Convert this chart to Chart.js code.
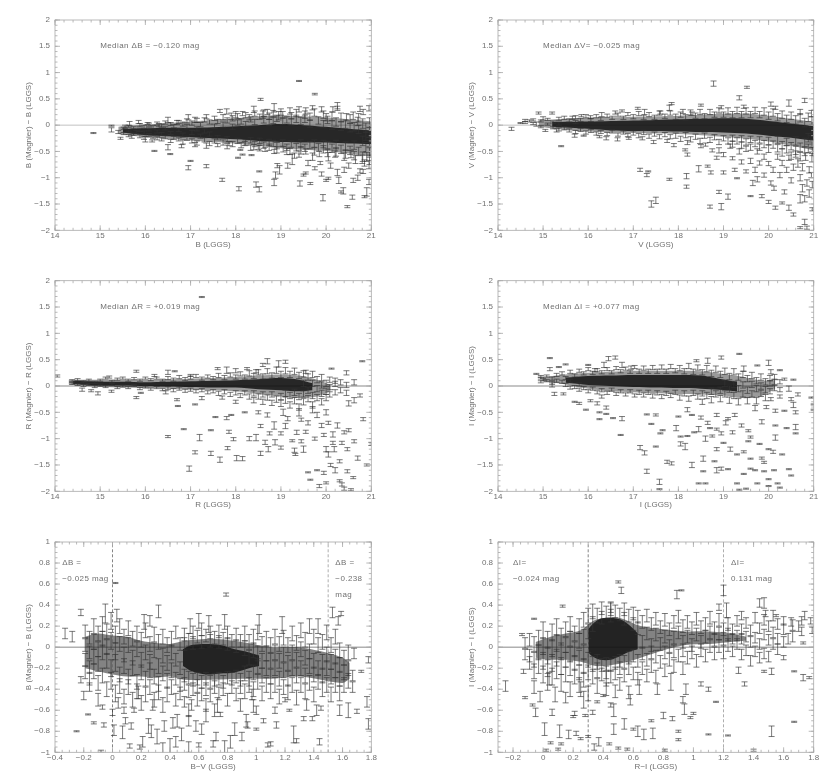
<!DOCTYPE html>
<html>
<head>
<meta charset="utf-8">
<title>Magnier vs LGGS photometry</title>
<script src="https://cdn.jsdelivr.net/npm/chart.js@4"></script>
<style>
html, body { margin: 0; padding: 0; background: #fff; width: 830px; height: 783px; overflow: hidden; }
.panel { position: absolute; filter: blur(0.6px); }
</style>
</head>
<body>
<canvas class="panel" id="plotB"></canvas>
<canvas class="panel" id="plotV"></canvas>
<canvas class="panel" id="plotR"></canvas>
<canvas class="panel" id="plotI"></canvas>
<canvas class="panel" id="plotBV"></canvas>
<canvas class="panel" id="plotRI"></canvas>
<script>
// tick values
var magTicks = [14, 15, 16, 17, 18, 19, 20, 21];
var deltaTicks = [-2, -1.5, -1, -0.5, 0, 0.5, 1, 1.5, 2];
var colorDeltaTicks = [-1, -0.8, -0.6, -0.4, -0.2, 0, 0.2, 0.4, 0.6, 0.8, 1];
var bvTicks = [-0.4, -0.2, 0, 0.2, 0.4, 0.6, 0.8, 1, 1.2, 1.4, 1.6, 1.8];
var riTicks = [-0.2, 0, 0.2, 0.4, 0.6, 0.8, 1, 1.2, 1.4, 1.6, 1.8];

// colour cuts (dashed lines in the two lower plots)
var bvCuts = [0, 1.5];
var riCuts = [0.3, 1.2];

// stars that can be told apart: [x, y, error]
var starsB = [[14.85,-.15,.01],[15.25,-.01,.01],[15.25,-.09,.04],[15.4,-.13,.03],[15.45,-.25,.02],[15.55,-.03,.03],[15.65,.03,.04],[15.7,-.22,.03],[15.85,.06,.03],[15.8,-.13,.03],[16.05,.03,.02],[16,-.27,.05],[16.15,-.3,.02],[16.2,-.49,.01],[16.3,0,.03],[16.5,.1,.05],[16.5,-.42,.05],[16.55,-.55,.01],[16.7,.05,.04],[16.8,-.4,.03],[16.95,-.81,.04],[16.95,.15,.05],[17,-.68,.01],[17.1,.1,.05],[17.1,-.37,.04],[17.35,-.78,.03],[17.35,.16,.04],[17.35,-.39,.05],[17.6,-.38,.03],[17.65,.27,.03],[17.7,-1.04,.03],[17.8,.26,.05],[17.85,-.35,.04],[17.9,.17,.06],[18,.2,.06],[18.05,-.62,.01],[18.07,-1.21,.04],[18.1,-.47,.01],[18.15,.22,.04],[18.15,-.56,.01],[18.2,-.35,.04],[18.3,.15,.05],[18.35,-.57,.01],[18.4,.3,.06],[18.4,-.42,.05],[18.45,-1.13,.05],[18.5,-.42,.04],[18.52,-1.22,.05],[18.52,-.88,.01],[18.55,.49,.02],[18.6,.2,.07],[18.65,-.46,.04],[18.7,.25,.05],[18.85,.33,.08],[18.85,-1.09,.06],[18.85,-.5,.04],[18.88,-.95,.06],[18.92,-.77,.04],[18.95,.18,.08],[18.97,-.85,.08],[19,.25,.06],[19.05,-.46,.05],[19.15,-.77,.05],[19.2,.27,.06],[19.2,-.5,.06],[19.25,-.65,.1],[19.3,-.58,.05],[19.4,.84,.01],[19.4,.3,.05],[19.4,-.55,.06],[19.42,-1.11,.05],[19.5,-.95,.02],[19.55,.27,.06],[19.55,-.5,.05],[19.55,-.91,.02],[19.6,-.72,.05],[19.65,-1.11,.02],[19.7,.33,.04],[19.7,-.6,.07],[19.75,.59,.015],[19.75,-.82,.03],[19.85,-.55,.05],[19.87,-.72,.03],[19.9,.3,.05],[19.9,-.93,.04],[19.93,-1.38,.06],[20,.15,.07],[20,-1.05,.02],[20.05,-1.01,.02],[20.05,-.6,.08],[20.1,-.77,.05],[20.15,.3,.05],[20.2,-.55,.06],[20.25,.37,.06],[20.25,.32,.04],[20.25,-.9,.06],[20.28,-1.05,.06],[20.33,-1.27,.02],[20.38,-1.25,.06],[20.4,-.6,.07],[20.4,-.85,.05],[20.45,.15,.07],[20.47,-1.55,.02],[20.5,-.77,.05],[20.55,-.55,.07],[20.58,-1.37,.04],[20.6,.18,.07],[20.6,-1.05,.04],[20.65,-.65,.08],[20.7,.07,.08],[20.7,-1,.05],[20.75,.31,.05],[20.75,-.87,.04],[20.8,-.65,.08],[20.82,.25,.05],[20.82,-.88,.04],[20.85,-1.36,.02],[20.85,-.72,.06],[20.9,-1.27,.08],[20.9,-.6,.09],[20.95,.32,.05],[20.95,-1.08,.05],[20.95,-.75,.08]];
var starsV = [[14.3,-.07,.03],[14.5,.04,.01],[14.7,.08,.02],[14.85,.02,.04],[14.9,.23,.02],[15,.13,.03],[15.05,-.1,.02],[15.2,.23,.02],[15.3,-.1,.03],[15.4,-.4,.01],[15.65,.14,.03],[15.7,-.2,.03],[15.85,.18,.02],[15.9,-.2,.01],[16.05,.15,.03],[16.25,-.22,.02],[16.3,.2,.04],[16.6,.24,.03],[16.4,-.25,.03],[16.75,.27,.02],[16.65,-.27,.03],[16.9,-.25,.02],[17.1,.32,.02],[17.15,-.85,.03],[17.2,-.25,.03],[17.25,.25,.05],[17.3,-.95,.03],[17.33,-.88,.01],[17.4,-1.5,.06],[17.5,-1.43,.06],[17.45,-.32,.03],[17.6,.24,.03],[17.75,-.3,.03],[17.8,-1.03,.02],[17.8,.33,.05],[17.85,.41,.02],[17.9,-.38,.03],[18.1,.26,.04],[18.15,-.47,.02],[18.18,-.97,.05],[18.18,-1.17,.03],[18.2,-.56,.03],[18.2,-.33,.04],[18.3,.22,.03],[18.45,-.83,.06],[18.5,.38,.02],[18.5,-.4,.03],[18.6,-.37,.03],[18.65,-.78,.02],[18.7,-1.55,.03],[18.72,-.9,.03],[18.75,-.48,.03],[18.78,.79,.05],[18.85,-.62,.03],[18.9,-1.27,.03],[18.9,-.48,.05],[18.95,-1.55,.06],[18.95,.34,.03],[19,-.9,.03],[19,-.56,.04],[19.1,-1.36,.05],[19.15,-.4,.04],[19.2,-.63,.03],[19.25,-.85,.03],[19.3,-1.01,.01],[19.35,.52,.04],[19.35,-.5,.05],[19.4,-.7,.04],[19.45,.35,.03],[19.5,-.88,.03],[19.5,-.45,.05],[19.52,.72,.02],[19.6,-1.35,.01],[19.6,-.68,.05],[19.65,-1.1,.05],[19.7,-.85,.05],[19.75,-1.03,.05],[19.75,-.5,.05],[19.8,-.72,.04],[19.85,-1.35,.03],[19.9,-.95,.04],[19.9,-.6,.05],[20,-1.46,.03],[20,-.73,.04],[20.05,.4,.04],[20.05,-1.1,.04],[20.1,-.85,.05],[20.12,-1.2,.04],[20.15,-1.57,.03],[20.15,.33,.03],[20.2,-.6,.05],[20.25,-.95,.05],[20.3,-1.48,.02],[20.3,-.72,.05],[20.35,-1.27,.04],[20.4,-.85,.05],[20.45,.42,.06],[20.45,-1.57,.05],[20.45,-.62,.05],[20.5,-1.05,.05],[20.55,-1.7,.03],[20.55,-.8,.06],[20.6,-.55,.06],[20.65,-.72,.08],[20.7,-1.4,.08],[20.7,-1.95,.02],[20.7,-1,.06],[20.7,.25,.05],[20.75,-.8,.07],[20.75,-1.2,.07],[20.8,.47,.04],[20.8,-1.84,.05],[20.8,-1.4,.06],[20.82,-.6,.07],[20.85,-1.95,.03],[20.85,-1.1,.06],[20.9,-1.3,.07],[20.9,-.85,.06],[20.95,-.95,.05],[20.97,-1.6,.03],[20.97,-1.13,.06],[20.97,-.5,.08],[20.95,.22,.06]];
var starsR = [[14.05,.19,.02],[14.6,-.07,.03],[14.8,-.09,.02],[14.95,-.14,.03],[15.2,.17,.02],[15.25,-.1,.02],[15.8,.28,.02],[15.8,-.22,.02],[15.9,-.13,.01],[16.2,.2,.02],[16.45,-.12,.03],[16.5,.26,.04],[16.5,-.96,.02],[16.65,.28,.01],[16.7,-.26,.02],[16.72,-.38,.01],[16.85,-.82,.01],[17,.2,.02],[16.97,-1.57,.05],[17.1,-1.26,.03],[17.1,-.35,.01],[17.2,-.98,.06],[17.25,-.23,.03],[17.25,1.69,.01],[17.45,-.84,.01],[17.45,-1.28,.04],[17.55,-.59,.01],[17.6,.33,.02],[17.65,-1.4,.05],[17.7,-.22,.03],[17.8,-.61,.03],[17.8,.3,.06],[17.82,-1.18,.03],[17.85,-.87,.03],[17.9,-.55,.01],[17.95,-1.01,.03],[18,.29,.04],[18,-.3,.03],[18.02,-1.37,.05],[18.15,-1.38,.04],[18.2,-.5,.01],[18.25,.33,.02],[18.3,-1,.04],[18.45,.28,.03],[18.45,-.98,.06],[18.5,-.5,.03],[18.55,-1.28,.04],[18.55,-.76,.03],[18.6,.4,.03],[18.65,-1.07,.04],[18.7,.47,.05],[18.7,-.55,.04],[18.72,-1.2,.05],[18.75,-.9,.03],[18.85,-.75,.07],[18.87,-1.07,.05],[18.95,.42,.06],[19,-.9,.03],[19,-1.17,.03],[19.05,-.5,.06],[19.1,.46,.03],[19.1,-.76,.05],[19.15,-.62,.04],[19.25,-1.04,.02],[19.3,-1.22,.04],[19.32,-1.3,.02],[19.35,-.88,.04],[19.4,-.5,.07],[19.45,-.64,.03],[19.45,-1.05,.03],[19.5,-1.2,.06],[19.55,.27,.03],[19.6,-.7,.04],[19.55,-.87,.03],[19.6,-1.64,.01],[19.65,-1.78,.01],[19.7,-.45,.06],[19.75,-1,.03],[19.8,-1.6,.01],[19.8,-.55,.05],[19.85,-1.9,.03],[19.9,-.75,.04],[19.95,-1.65,.03],[19.95,-.93,.03],[20,-1.84,.02],[20,-.5,.05],[20,-1.2,.05],[20.05,-1.3,.05],[20.05,-.7,.03],[20.1,-1.5,.03],[20.12,.33,.01],[20.15,-1.08,.03],[20.15,-.92,.05],[20.18,-1.2,.05],[20.2,-1.6,.05],[20.25,-.75,.05],[20.3,-1.43,.03],[20.3,-1.8,.02],[20.35,-1.08,.03],[20.35,-1.87,.03],[20.4,-1.95,.03],[20.4,-.88,.03],[20.45,.25,.04],[20.47,-1.62,.03],[20.47,-1.2,.03],[20.5,-.33,.05],[20.5,-.84,.03],[20.55,-1.97,.02],[20.6,-1.74,.02],[20.62,-.27,.05],[20.62,-1.05,.03],[20.62,.07,.05],[20.7,-1.37,.04],[20.75,-.18,.03],[20.8,.47,.01],[20.82,-.63,.03],[20.9,-1.5,.02],[21,-1.1,.03]];
var starsI = [[14.85,.23,.01],[14.95,.18,.02],[15,.12,.02],[15.15,.53,.01],[15.15,.32,.03],[15.2,.02,.04],[15.25,-.15,.03],[15.45,-.15,.02],[15.35,.36,.01],[15.5,.41,.01],[15.7,-.3,.01],[15.8,-.33,.02],[15.95,-.45,.01],[16,.4,.01],[16.05,-.28,.02],[16.15,.3,.03],[16.2,-.33,.03],[16.25,-.5,.01],[16.35,.4,.05],[16.45,.52,.04],[16.4,-.41,.03],[16.4,-.53,.01],[16.25,-.63,.01],[16.6,.54,.03],[16.55,-.61,.01],[16.75,.4,.05],[16.75,-.62,.04],[16.72,-.93,.01],[16.95,.35,.03],[17.15,-1.17,.04],[17.25,-1.27,.04],[17.3,-1.62,.04],[17.3,-.54,.01],[17.4,-.72,.01],[17.5,-.55,.02],[17.5,-1.15,.01],[17.58,-1.82,.05],[17.58,-1.96,.01],[17.6,-.9,.01],[17.65,-.84,.01],[17.75,-1.44,.03],[17.85,-1.47,.03],[17.95,-.8,.05],[18,-.58,.01],[18.05,-1.1,.04],[18.05,-.96,.01],[18.15,-1.15,.06],[18.2,-.95,.01],[18.2,-.45,.04],[18.3,-.55,.01],[18.3,-1.5,.05],[18.35,-.88,.01],[18.4,.48,.02],[18.45,-1.85,.01],[18.45,-.82,.05],[18.5,-.6,.03],[18.55,-1.38,.05],[18.55,-1.62,.01],[18.6,-1.85,.01],[18.6,-1,.05],[18.65,.48,.05],[18.65,-.7,.03],[18.7,-.8,.01],[18.75,-.95,.02],[18.8,-1.43,.01],[18.85,-.55,.03],[18.85,-.82,.02],[18.85,-1.6,.05],[18.85,-1.2,.03],[18.95,-1.57,.03],[18.95,.54,.03],[18.95,-.9,.03],[19,-1.08,.01],[19.05,-.7,.04],[19.1,-1.58,.01],[19.1,-.62,.02],[19.15,-1.2,.04],[19.2,-.88,.03],[19.25,-.55,.03],[19.3,-1.3,.01],[19.35,.61,.01],[19.35,-1.97,.01],[19.3,-1.85,.01],[19.4,-.75,.03],[19.45,.33,.05],[19.45,-1.25,.02],[19.45,-1.67,.01],[19.5,-1.95,.01],[19.55,-.85,.02],[19.55,-1.05,.01],[19.6,-1.38,.01],[19.6,-1.57,.01],[19.6,-.97,.02],[19.7,-.42,.05],[19.7,-1.6,.01],[19.75,.39,.01],[19.75,-1.85,.01],[19.8,-1.1,.01],[19.85,-.68,.04],[19.85,-1.37,.02],[19.9,-1.45,.02],[19.9,-1.62,.01],[19.95,-.4,.03],[20,-1.77,.01],[20,-1.2,.01],[20,.44,.05],[20,-1.9,.01],[20.05,-.25,.03],[20.05,.27,.04],[20.1,-1.25,.03],[20.12,-1.6,.01],[20.15,-.47,.03],[20.15,-.98,.05],[20.15,-.75,.01],[20.2,-1.85,.01],[20.25,-1.93,.01],[20.25,-.2,.03],[20.25,.3,.01],[20.3,-1.3,.01],[20.35,-.47,.01],[20.35,.13,.02],[20.4,-.8,.01],[20.45,-1.58,.01],[20.45,-.05,.05],[20.5,-.25,.03],[20.5,-1.7,.01],[20.55,.12,.01],[20.55,-.36,.05],[20.6,-.78,.05],[20.6,-.9,.01],[20.6,-.5,.03],[20.65,-.16,.03],[20.95,-.22,.01],[21,-.35,.01],[21,-.45,.01]];
var starsBV = [[-.33,.13,.05],[-.28,.1,.05],[-.25,-.8,.005],[-.22,.33,.03],[-.22,-.31,.03],[-.2,-.46,.04],[-.17,-.64,.005],[-.16,-.38,.04],[-.13,-.72,.01],[-.1,-.5,.06],[-.08,-.99,.01],[-.07,-.57,.02],[-.06,-.74,.02],[-.05,.32,.09],[0,-.62,.03],[.01,-.79,.05],[.02,.61,.005],[.03,.3,.06],[.04,-.53,.05],[.07,-.81,.06],[.08,-.6,.03],[.09,-.7,.03],[.12,-.94,.02],[.13,-.75,.03],[.15,-.6,.02],[.18,-.43,.06],[.19,-.95,.02],[.21,-.9,.05],[.22,.24,.07],[.25,-.75,.07],[.26,.25,.05],[.27,-.8,.06],[.28,-.55,.05],[.32,.34,.06],[.31,-.85,.07],[.35,-.97,.06],[.36,-.75,.05],[.4,-.95,.08],[.42,-.72,.05],[.44,-.9,.05],[.45,-.7,.06],[.48,-.83,.06],[.5,-.52,.05],[.53,-.95,.05],[.54,.2,.07],[.53,-.7,.05],[.55,-.55,.05],[.58,-.75,.05],[.6,-.93,.02],[.6,.25,.07],[.62,-.78,.05],[.65,-.65,.06],[.67,.22,.08],[.7,-.92,.03],[.72,-.85,.04],[.73,-.55,.07],[.75,-.64,.02],[.78,-.95,.06],[.78,.24,.07],[.79,.5,.015],[.82,-.9,.06],[.85,-.78,.06],[.9,-.85,.04],[.93,-.7,.06],[.94,-.74,.03],[.97,-.45,.05],[.98,-.56,.06],[1,-.6,.04],[1,-.78,.01],[1.02,.22,.09],[1.05,-.7,.02],[1.08,-.93,.02],[1.1,-.92,.02],[1.13,-.6,.03],[1.14,-.74,.03],[1.18,.21,.08],[1.2,-.5,.02],[1.23,-.6,.01],[1.26,-.83,.08],[1.28,-.89,.02],[1.33,-.68,.02],[1.35,-.55,.05],[1.39,-.68,.02],[1.42,-.6,.05],[1.44,-.9,.03],[1.45,-.58,.02],[1.53,.33,.05],[1.57,.25,.04],[1.58,-.6,.05],[1.59,.32,.02],[1.64,-.6,.07],[1.68,-.06,.05],[1.7,-.61,.02],[1.73,-.23,.01],[1.77,-.52,.05],[1.78,-.73,.05],[1.78,-.12,.03]];
var starsRI = [[-.25,-.37,.05],[-.14,.12,.01],[-.13,-.23,.02],[-.12,-.48,.01],[-.07,-.55,.01],[-.06,.27,.005],[-.06,-.38,.06],[-.05,-.62,.04],[-.02,-.47,.05],[.01,-.78,.06],[.02,-.98,.01],[.04,-.3,.06],[.05,-.91,.01],[.06,-.62,.03],[.08,-.45,.07],[.1,-.97,.01],[.11,-.8,.06],[.12,-.92,.01],[.13,.39,.01],[.15,-.48,.05],[.17,-.83,.04],[.2,-.66,.01],[.21,-.63,.02],[.22,-.82,.02],[.25,-.4,.07],[.25,-.87,.01],[.27,-.5,.08],[.28,-.65,.01],[.3,-.85,.01],[.33,-.62,.02],[.34,-.95,.03],[.36,-.52,.01],[.37,-.9,.04],[.4,-.46,.01],[.42,-.3,.07],[.44,-.92,.01],[.45,-.55,.02],[.45,.38,.05],[.47,-.78,.05],[.47,-.6,.06],[.5,.62,.01],[.5,-.96,.01],[.52,.54,.03],[.54,-.73,.05],[.56,-.97,.01],[.58,-.5,.05],[.6,-.78,.01],[.63,-.8,.05],[.64,-.38,.07],[.67,-.83,.05],[.72,-.7,.01],[.73,-.82,.05],[.76,-.4,.05],[.8,-.65,.03],[.81,-.98,.01],[.85,-.33,.08],[.86,-.68,.02],[.89,.5,.04],[.9,-.8,.01],[.9,-.88,.01],[.92,.54,.005],[.93,-.5,.03],[.94,-.59,.05],[.95,-.4,.05],[.98,-.67,.01],[1,-.63,.01],[1.05,-.35,.02],[1.1,-.83,.005],[1.1,-.4,.02],[1.15,-.52,.005],[1.17,.38,.03],[1.2,.54,.05],[1.22,.35,.07],[1.23,-.84,.005],[1.32,.3,.04],[1.34,-.35,.02],[1.3,-.22,.03],[1.4,-.98,.01],[1.44,.42,.04],[1.47,.42,.05],[1.48,.32,.03],[1.52,-.8,.05],[1.52,-.23,.03],[1.47,-.23,.01],[1.55,.3,.01],[1.6,.25,.04],[1.6,-.1,.02],[1.63,.08,.05],[1.65,.24,.04],[1.67,-.23,.005],[1.67,-.71,.005],[1.7,.2,.05],[1.73,.04,.01],[1.73,-.29,.03],[1.74,.3,.04],[1.77,-.29,.01],[1.78,.25,.03],[1.79,.16,.03]];

// crowded stars estimated column by column: [x, error, y, y, ...]
var crowdB = [[15.52,.02,-.06,-.16],[15.63,.02,-.02,-.11,-.2],[15.74,.02,-.05,-.17],[15.88,.03,0,-.09,-.21],[15.97,.03,-.03,-.14,-.24],[16.08,.03,.01,-.08,-.19],[16.17,.03,-.04,-.22],[16.26,.03,.03,-.12,-.25],[16.36,.03,-.01,-.17,-.27],[16.44,.03,.05,-.06,-.23],[16.56,.03,.02,-.15,-.3],[16.63,.03,-.02,-.24],[16.74,.03,.06,-.09,-.27],[16.83,.04,.02,-.19,-.32],[16.92,.04,.08,-.03,-.25],[17.03,.04,.04,-.14,-.3],[17.14,.04,.09,-.07,-.34],[17.22,.04,.01,-.21],[17.31,.04,.1,-.11,-.28],[17.42,.04,.06,-.17,-.35],[17.53,.04,.13,-.02,-.3],[17.6,.04,.07,-.24],[17.72,.05,.15,.01,-.33],[17.81,.05,.09,-.27,-.4],[17.93,.05,.13,-.03,-.36],[18.04,.05,.17,.05,-.3],[18.12,.05,.07,-.38],[18.22,.05,.19,.02,-.33],[18.33,.05,.11,-.29,-.43],[18.42,.05,.22,.06,-.36],[18.53,.05,.16,-.3,-.44],[18.62,.06,.1,.23,-.38],[18.74,.06,.17,.05,-.42,-.33],[18.83,.06,.22,.09,-.35],[18.91,.06,.13,-.39,-.47],[19.04,.06,.2,.07,-.34],[19.13,.06,.1,-.42,-.5],[19.23,.06,.18,.06,-.36],[19.34,.07,.23,.12,-.42],[19.44,.07,.08,-.35,-.48],[19.53,.07,.2,.12,-.43],[19.64,.07,.16,.03,-.38],[19.74,.07,.24,-.5,-.35],[19.83,.07,.09,-.42],[19.94,.07,.2,.02,-.46,-.36],[20.03,.07,.1,-.38,-.53],[20.13,.08,.17,0,-.44],[20.22,.08,.06,-.37,-.51],[20.33,.08,.15,-.02,-.46],[20.43,.08,.02,-.4,-.55],[20.53,.08,.12,-.05,-.48],[20.62,.08,-.03,-.38,-.58],[20.72,.08,.14,-.08,-.5],[20.81,.09,.03,-.3,-.6],[20.88,.09,-.05,-.42,-.2],[20.96,.09,.05,-.14,-.32,-.52,-.66]];
var crowdV = [[14.6,.02,.05,.09],[14.78,.02,.1,.03],[14.95,.02,.08,-.03],[15.1,.02,.11,.02],[15.22,.02,.06,-.05],[15.35,.03,.12,.03,-.08],[15.47,.03,.14,-.06],[15.58,.03,.09,-.1],[15.72,.03,.15,.06,-.13],[15.83,.03,.1,-.09],[15.95,.03,.17,-.14],[16.06,.03,.1,-.11],[16.18,.03,.17,-.16],[16.28,.03,.12,-.13],[16.42,.03,.18,-.17],[16.53,.03,.14,-.12],[16.66,.03,.2,-.18],[16.78,.03,.14,-.14],[16.88,.03,.21,-.19],[17,.04,.16,-.15],[17.12,.04,.22,-.2],[17.23,.04,.15,-.14],[17.35,.04,.2,-.21],[17.47,.04,.15,-.17],[17.58,.04,.23,-.22],[17.7,.04,.17,-.18],[17.82,.04,.23,-.22],[17.94,.05,.16,-.2],[18.05,.05,.2,-.26],[18.16,.05,.15,-.19],[18.27,.05,.24,-.27],[18.38,.05,.18,-.22],[18.48,.05,.25,-.3],[18.58,.05,.17,-.2],[18.7,.05,.25,-.28],[18.8,.05,.2,-.23],[18.9,.05,.28,-.32],[19,.05,.2,-.25],[19.1,.06,.27,-.3],[19.2,.06,.2,-.36,-.25],[19.3,.06,.28,-.3],[19.4,.06,.2,-.38,-.26],[19.5,.06,.27,-.32],[19.6,.06,.2,-.42,-.27],[19.7,.06,.28,-.35],[19.8,.06,.2,-.42,-.28],[19.9,.07,.26,-.36],[20,.07,.18,-.45,-.3],[20.1,.07,.24,-.37],[20.2,.07,.15,-.44,-.28],[20.3,.07,.2,-.38,-.52],[20.4,.07,.12,-.32,-.46],[20.5,.07,.18,-.4,-.58],[20.6,.08,.1,-.3,-.48],[20.7,.08,.14,-.42,-.6],[20.8,.08,.05,-.33,-.5],[20.88,.08,.15,-.24,-.44],[20.96,.08,.08,-.12,-.35,-.62]];
var crowdR = [[14.38,.02,.1,.05],[14.5,.02,.12,.03],[14.63,.02,.08,.01],[14.75,.02,.11,.03],[14.88,.02,.07,-.01],[15,.02,.11,.02],[15.12,.02,.15,-.01],[15.26,.02,.09,.03],[15.38,.02,.13,-.03],[15.5,.02,.15,0],[15.62,.02,.11,-.03],[15.75,.02,.14,.01],[15.88,.02,.11,-.05],[16,.02,.15,-.02],[16.12,.02,.12,-.06],[16.25,.02,.15,-.03],[16.38,.02,.11,-.07],[16.5,.03,.15,-.04],[16.62,.03,.12,-.08],[16.75,.03,.17,-.05],[16.88,.03,.13,-.09],[17,.03,.16,-.07],[17.12,.03,.19,-.1],[17.25,.03,.14,-.08],[17.38,.03,.18,-.12],[17.5,.03,.15,-.1],[17.62,.04,.2,-.14],[17.75,.04,.16,-.11],[17.88,.04,.21,-.16],[18,.04,.17,-.13],[18.1,.04,.23,-.18],[18.2,.04,.17,-.13],[18.3,.05,.24,-.2],[18.4,.05,.19,-.14,-.27],[18.5,.05,.26,-.2],[18.6,.05,.18,-.16,-.3],[18.7,.05,.28,-.22],[18.8,.05,.2,-.16,-.32],[18.9,.06,.3,-.25],[19,.06,.22,-.2,-.33],[19.1,.06,.29,-.14,-.27],[19.2,.06,.22,-.18,-.36],[19.3,.06,.28,-.12,-.28],[19.4,.06,.2,-.2,-.4],[19.5,.06,.23,.05,-.15,-.3],[19.6,.06,.17,-.08,-.24],[19.7,.06,.22,.05,-.18,-.36],[19.8,.06,.12,-.05,-.22],[19.9,.06,.16,.02,-.14,-.3],[20,.06,.05,-.1,-.22],[20.08,.05,.12,-.02,-.16],[20.2,.05,.1,.04,-.12],[20.32,.05,.07,-.08],[20.45,.05,.02,-.13]];
var crowdI = [[14.95,.02,.15,.08],[15.08,.02,.19,.1],[15.2,.03,.14,.06],[15.3,.03,.21,.1],[15.42,.03,.24,.08],[15.5,.03,.15,.02],[15.6,.03,.27,.1,-.03],[15.7,.03,.2,-.02],[15.8,.03,.29,.03,-.07],[15.9,.03,.24,-.04],[16,.03,.32,-.1],[16.1,.03,.25,-.05],[16.2,.03,.3,-.12],[16.3,.03,.26,-.08,-.2],[16.42,.03,.32,-.13],[16.52,.03,.26,-.07],[16.62,.03,.34,-.15],[16.72,.03,.28,-.1],[16.83,.03,.33,-.16],[16.93,.03,.27,-.1],[17.03,.03,.36,-.18],[17.13,.04,.28,-.12],[17.23,.04,.34,-.17],[17.33,.04,.28,-.12],[17.43,.04,.35,-.19],[17.53,.04,.28,-.13],[17.63,.04,.36,-.2],[17.73,.04,.28,-.14],[17.83,.04,.37,-.18],[17.93,.04,.29,-.12],[18.03,.05,.34,-.22],[18.13,.05,.28,-.14],[18.23,.05,.38,-.24],[18.33,.05,.27,-.13],[18.43,.05,.35,-.2],[18.53,.05,.26,-.14,-.3],[18.63,.06,.33,-.18],[18.73,.06,.24,-.1,-.26],[18.83,.06,.32,-.15],[18.93,.06,.22,-.08,-.24],[19.03,.06,.28,.05,-.15],[19.13,.06,.18,-.06,-.27],[19.23,.06,.27,.03,-.18],[19.33,.06,.17,-.05,-.3],[19.43,.06,.22,.02,-.15],[19.53,.06,.14,-.08,-.28],[19.63,.06,.2,.03,-.15],[19.73,.06,.1,-.05,-.28],[19.83,.06,.17,0,-.14],[19.93,.06,.08,-.07,-.22],[20.03,.05,.15,.05,-.1],[20.13,.05,.17,.08,-.04],[20.25,.04,.08,-.07]];
var crowdBV = [[-.19,.06,.15,.02,-.12,-.24],[-.16,.06,.09,-.05,-.19,-.3],[-.13,.07,.2,.05,-.09,-.23],[-.1,.07,.13,-.02,-.16,-.34],[-.07,.07,.22,.08,-.05,-.27],[-.04,.07,.15,0,-.13,-.4],[-.01,.08,.25,.06,-.2,-.32],[.02,.08,.12,-.04,-.15,-.44],[.05,.07,.2,.03,-.26,-.37],[.08,.07,.1,-.07,-.18,-.47],[.11,.07,.18,.02,-.28,-.38],[.14,.07,.08,-.1,-.2,-.5],[.17,.07,.13,-.02,-.33,-.42],[.2,.07,.07,-.12,-.24,-.53],[.23,.07,.16,-.05,-.3,-.45],[.26,.07,.03,-.14,-.22,-.38],[.29,.07,.12,-.03,-.28,-.5],[.32,.07,.05,-.18,-.35,-.43],[.35,.07,.1,-.08,-.25,-.55],[.38,.07,.02,-.15,-.32,-.45],[.41,.07,.08,-.05,-.22,-.38],[.44,.06,.14,-.12,-.3,-.5],[.47,.06,.03,-.2,-.36,-.44],[.5,.06,.12,.03,-.27,-.35],[.53,.06,.07,-.29,-.42,-.6],[.56,.06,.14,.04,-.31,-.4],[.59,.06,.1,-.3,-.37,-.5],[.62,.06,.17,.05,-.33,-.45],[.65,.06,.11,-.3,-.4,-.55],[.68,.06,.14,.06,-.33,-.46],[.71,.06,.09,-.31,-.38,-.6],[.74,.06,.15,.05,-.3,-.44],[.77,.06,.08,-.33,-.4],[.8,.06,.14,.03,-.29,-.5],[.83,.06,.06,-.3,-.38],[.86,.06,.12,.01,-.28,-.45],[.89,.06,.06,-.31,-.38,-.55],[.92,.07,.13,-.01,-.25,-.42],[.95,.07,.05,-.1,-.3,-.36],[.98,.07,.1,-.03,-.24,-.4],[1.01,.07,.14,-.06,-.18,-.33],[1.04,.07,.03,-.13,-.27,-.44],[1.07,.07,.08,-.06,-.2,-.36],[1.1,.07,.02,-.13,-.28,-.42],[1.13,.07,.1,-.05,-.2,-.36],[1.16,.07,.03,-.13,-.3,-.47],[1.19,.07,.09,-.07,-.22,-.38],[1.22,.07,.02,-.15,-.3,-.43],[1.25,.07,.13,-.05,-.2,-.36],[1.28,.07,.04,-.12,-.27,-.48],[1.31,.07,.16,-.02,-.2,-.36],[1.34,.07,.07,-.1,-.27,-.42],[1.37,.07,.2,-.04,-.18,-.34],[1.4,.07,.1,-.13,-.26,-.45],[1.43,.07,.2,.02,-.2,-.33],[1.46,.07,.05,-.14,-.27,-.4],[1.49,.07,.14,-.07,-.2,-.36],[1.52,.07,.02,-.14,-.28,-.45],[1.55,.07,.1,-.09,-.22,-.36],[1.58,.07,-.03,-.17,-.3,-.44],[1.61,.07,-.1,-.24,-.36],[1.64,.07,-.05,-.2,-.32],[1.67,.05,-.27,-.38]];
var crowdRI = [[-.12,.05,.04,-.07],[-.09,.06,.07,-.08,-.15],[-.06,.07,.03,-.12,-.23],[-.03,.07,.09,-.05,-.18],[0,.08,.16,.01,-.13,-.26],[.03,.08,.07,-.08,-.2,-.33],[.06,.08,.14,-.01,-.15,-.28],[.09,.08,.19,.04,-.1,-.22],[.12,.08,.1,-.04,-.18,-.34],[.15,.07,.17,.02,-.12,-.26],[.18,.07,.22,.08,-.07,-.2,-.4],[.21,.07,.13,-.02,-.15,-.28],[.24,.07,.2,.06,-.1,-.24,-.36],[.27,.07,.26,.1,-.05,-.18,-.31],[.3,.07,.3,.15,-.12,-.24,-.44],[.33,.07,.34,.22,-.16,-.28],[.36,.07,.3,-.14,-.22,-.37],[.39,.06,.37,.28,-.17,-.26],[.42,.06,.33,-.16,-.24,-.4],[.45,.06,.36,.3,-.17,-.28],[.48,.06,.34,-.15,-.25,-.42],[.51,.06,.31,-.13,-.2,-.35],[.54,.06,.36,.27,-.14,-.27],[.57,.06,.3,-.1,-.2,-.43],[.6,.06,.32,.22,-.08,-.25],[.63,.06,.29,.18,-.13,-.3],[.66,.06,.24,.05,-.06,-.2],[.69,.06,.3,.13,-.12,-.27],[.72,.06,.22,.02,-.05,-.18],[.75,.06,.27,.12,-.09,-.28],[.78,.06,.19,.03,-.14],[.81,.06,.26,.1,-.05,-.22],[.84,.06,.17,.01,-.12],[.87,.06,.24,.09,-.04,-.18],[.9,.06,.29,.14,-.08],[.93,.06,.2,.05,-.03,-.2],[.96,.06,.24,.1,-.1],[.99,.06,.18,.02,-.05],[1.02,.06,.27,.12,-.13],[1.05,.06,.19,.05,-.03],[1.08,.06,.22,.1,-.08],[1.11,.06,.28,.14,.01],[1.14,.06,.18,.07,-.06],[1.17,.06,.26,.13,.01],[1.2,.06,.17,.08,-.05],[1.23,.06,.22,.12,.02],[1.26,.05,.17,.08,-.04],[1.29,.05,.25,.11,.03],[1.32,.05,.17,.08,-.07],[1.35,.05,.23,.1,-.03],[1.38,.05,.16,.05,-.13],[1.41,.05,.28,.09,-.04],[1.44,.05,.18,.03,-.1],[1.47,.05,.26,.12,-.06],[1.5,.05,.2,.07,-.09],[1.53,.05,.3,.14,.03],[1.56,.05,.22,.08,-.02],[1.6,.05,.17,.05],[1.66,.05,.21,.1],[1.72,.04,.25,.15]];

// where single bars can no longer be read: [x, upper, lower]
var coreB = [[15.5,-.07,-.14],[16,-.06,-.19],[16.5,-.05,-.21],[17,-.05,-.23],[17.5,-.04,-.25],[18,-.02,-.27],[18.5,0,-.3],[19,.02,-.32],[19.5,0,-.33],[20,-.03,-.33],[20.5,-.07,-.35],[21,-.1,-.36]];
var washB = [[15.4,-.03,-.17],[16,.01,-.23],[16.5,.04,-.26],[17,.07,-.29],[17.5,.1,-.32],[18,.13,-.35],[18.5,.17,-.39],[19,.19,-.44],[19.5,.17,-.47],[20,.15,-.49],[20.5,.11,-.54],[21,.07,-.6]];
var coreV = [[15.2,.06,-.03],[16,.07,-.07],[16.5,.08,-.1],[17,.09,-.11],[17.5,.1,-.11],[18,.11,-.12],[18.5,.12,-.13],[19,.13,-.14],[19.5,.12,-.16],[20,.08,-.2],[20.5,.03,-.24],[21,-.02,-.3]];
var washV = [[14.9,.09,-.03],[15.5,.12,-.09],[16,.14,-.12],[16.5,.15,-.14],[17,.16,-.15],[17.5,.17,-.16],[18,.18,-.17],[18.5,.2,-.19],[19,.22,-.22],[19.5,.22,-.26],[20,.18,-.31],[20.5,.12,-.39],[21,.06,-.48]];
var coreR = [[14.4,.1,.04],[15,.08,.01],[15.5,.08,.01],[16,.07,0],[16.5,.08,-.01],[17,.09,-.02],[17.5,.1,-.03],[18,.11,-.03],[18.5,.13,-.06],[19,.15,-.08],[19.4,.12,-.1],[19.7,.05,-.08]];
var washR = [[14.3,.12,.03],[15,.12,-.02],[15.5,.12,-.03],[16,.12,-.04],[16.5,.13,-.05],[17,.14,-.07],[17.5,.15,-.08],[18,.17,-.1],[18.5,.2,-.15],[19,.22,-.2],[19.4,.2,-.23],[19.8,.12,-.2],[20.1,.02,-.1]];
var coreI = [[15.5,.16,.06],[16,.19,.02],[16.5,.2,0],[17,.21,-.02],[17.5,.21,-.03],[18,.21,-.04],[18.5,.2,-.05],[18.9,.14,-.07],[19.3,.08,-.1]];
var washI = [[15,.17,.09],[15.5,.22,.03],[16,.25,-.05],[16.5,.27,-.1],[17,.29,-.12],[17.5,.29,-.14],[18,.29,-.15],[18.5,.28,-.16],[19,.23,-.18],[19.4,.18,-.23],[19.8,.11,-.2],[20.15,.11,-.05]];
var coreBV = [[.49,-.02,-.18],[.55,.02,-.23],[.65,.03,-.26],[.75,.02,-.25],[.85,-.02,-.24],[.95,-.05,-.2],[1.02,-.08,-.18]];
var washBV = [[-.19,.1,-.2],[-.1,.13,-.23],[0,.11,-.26],[.1,.1,-.28],[.2,.06,-.28],[.3,.04,-.29],[.4,.03,-.28],[.5,.06,-.31],[.7,.08,-.31],[.9,.05,-.3],[1.1,0,-.3],[1.3,0,-.28],[1.45,-.04,-.31],[1.6,-.1,-.34],[1.65,-.15,-.3]];
var coreRI = [[.3,.17,-.05],[.33,.22,-.09],[.38,.27,-.12],[.45,.28,-.12],[.52,.26,-.08],[.58,.2,-.04],[.63,.13,-.02]];
var washRI = [[-.05,.05,-.1],[.05,.1,-.12],[.15,.13,-.12],[.25,.16,-.14],[.35,.26,-.18],[.5,.28,-.16],[.65,.2,-.1],[.8,.17,-.03],[.95,.15,.02],[1.1,.15,.03],[1.25,.13,.05],[1.35,.1,.06]];

var inkColor = "#333";
var textColor = "#707070";
var frameColor = "#a8a8a8";
var textFont = '8px "Liberation Sans"';

// draws the error bars, the frame, inside ticks on all four sides and the notes
var framePlugin = {
    id: "frame",
    afterDatasetsDraw: function(chart) {
        var ctx = chart.ctx;
        var area = chart.chartArea;
        var o = chart.options.plugins.frame;
        var xs = chart.scales.x;
        var ys = chart.scales.y;
        ctx.save();

        ctx.beginPath();
        ctx.rect(area.left, area.top, area.width, area.height);
        ctx.clip();
        ctx.strokeStyle = inkColor;
        ctx.lineWidth = 0.65;
        ctx.beginPath();
        chart.data.datasets[o.starIndex].data.forEach(function(p) {
            var px = xs.getPixelForValue(p.x);
            var up = ys.getPixelForValue(p.y + p.err);
            var lo = ys.getPixelForValue(p.y - p.err);
            ctx.moveTo(px, up);
            ctx.lineTo(px, lo);
            ctx.moveTo(px - 3, up);
            ctx.lineTo(px + 3, up);
            ctx.moveTo(px - 3, lo);
            ctx.lineTo(px + 3, lo);
        });
        ctx.stroke();
        ctx.restore();
        ctx.save();

        ctx.strokeStyle = frameColor;
        ctx.lineWidth = 0.8;
        ctx.strokeRect(area.left, area.top, area.width, area.height);
        ctx.beginPath();
        function xTick(v, len) {
            var p = xs.getPixelForValue(v);
            ctx.moveTo(p, area.bottom);
            ctx.lineTo(p, area.bottom - len);
            ctx.moveTo(p, area.top);
            ctx.lineTo(p, area.top + len);
        }
        function yTick(v, len) {
            var p = ys.getPixelForValue(v);
            ctx.moveTo(area.left, p);
            ctx.lineTo(area.left + len, p);
            ctx.moveTo(area.right, p);
            ctx.lineTo(area.right - len, p);
        }
        var n;
        for (n = Math.ceil(xs.min / o.xMinor - 1e-6); n * o.xMinor <= xs.max + 1e-6; n++) {
            xTick(n * o.xMinor, 2.5);
        }
        for (n = Math.ceil(ys.min / o.yMinor - 1e-6); n * o.yMinor <= ys.max + 1e-6; n++) {
            yTick(n * o.yMinor, 2.5);
        }
        xs.ticks.forEach(function(t) { xTick(t.value, 5); });
        ys.ticks.forEach(function(t) { yTick(t.value, 5); });
        ctx.stroke();

        ctx.fillStyle = textColor;
        ctx.font = textFont;
        ctx.letterSpacing = "0.4px";
        ctx.textBaseline = "middle";
        o.notes.forEach(function(n) {
            ctx.fillText(n[0], xs.getPixelForValue(n[1]), ys.getPixelForValue(n[2]));
        });
        ctx.restore();
    }
};

function toStars(list, crowd) {
    var out = list.map(function(s) { return {x: s[0], y: s[1], err: s[2]}; });
    crowd.forEach(function(col) {
        for (var i = 2; i < col.length; i++) {
            out.push({x: col[0], y: col[i], err: col[1]});
        }
    });
    return out;
}

function edge(list, col) {
    return list.map(function(s) { return {x: s[0], y: s[col]}; });
}

function bandSets(list, color, order) {
    return [
        {data: edge(list, 1), order: order, showLine: true, tension: 0.3, borderWidth: 0, pointRadius: 0, fill: "+1", backgroundColor: color},
        {data: edge(list, 2), order: order, showLine: true, tension: 0.3, borderWidth: 0, pointRadius: 0, fill: false}
    ];
}

function makePanel(id, p) {
    var canvas = document.getElementById(id);
    canvas.style.left = p.left + "px";
    canvas.style.top = p.top + "px";
    canvas.style.width = p.width + "px";
    canvas.style.height = "260px";
    canvas.width = p.width;
    canvas.height = 260;

    var sets = [];
    // higher order is drawn first, so the zero line stays under the crowd
    sets.push({data: [{x: p.xMin, y: 0}, {x: p.xMax, y: 0}], order: 9, showLine: true, pointRadius: 0,
        borderColor: "#b0b0b0", borderWidth: p.zeroWidth});
    sets = sets.concat(bandSets(p.wash, p.washColor, 8));
    sets = sets.concat(bandSets(p.core, "rgba(15,15,15,0.82)", 7));
    p.cuts.forEach(function(c, i) {
        sets.push({data: [{x: c, y: p.yTicks[0]}, {x: c, y: p.yTicks[p.yTicks.length - 1]}], order: 6, showLine: true, pointRadius: 0,
            borderColor: i == 0 ? "#666" : "#999", borderWidth: 0.8, borderDash: [3, 2]});
    });
    sets.push({data: toStars(p.stars, p.crowd), pointRadius: 0});

    var tickFont = {family: "Liberation Sans", size: 8};
    function tickText(v) { return String(v).replace("-", "\u2212"); }

    new Chart(canvas, {
        type: "scatter",
        data: {datasets: sets},
        options: {
            responsive: false,
            animation: false,
            layout: {padding: {left: 0, right: p.padRight, top: p.padTop, bottom: p.padBottom}},
            plugins: {
                legend: {display: false},
                tooltip: {enabled: false},
                frame: {starIndex: sets.length - 1, xMinor: p.xMinor, yMinor: p.yMinor, notes: p.notes}
            },
            scales: {
                x: {
                    type: "linear", min: p.xMin, max: p.xMax,
                    afterBuildTicks: function(s) { s.ticks = p.xTicks.map(function(v) { return {value: v}; }); },
                    afterFit: function(s) { s.height = p.xAxisHeight; },
                    grid: {display: false, drawTicks: false},
                    border: {display: false},
                    ticks: {autoSkip: false, maxRotation: 0, padding: 1, color: textColor, font: tickFont, callback: tickText},
                    title: {display: true, text: p.xTitle, color: textColor, font: tickFont, padding: {top: 0, bottom: 0}}
                },
                y: {
                    type: "linear", min: p.yTicks[0], max: p.yTicks[p.yTicks.length - 1],
                    afterBuildTicks: function(s) { s.ticks = p.yTicks.map(function(v) { return {value: v}; }); },
                    afterFit: function(s) { s.width = 55; },
                    grid: {display: false, drawTicks: false},
                    border: {display: false},
                    ticks: {autoSkip: false, padding: 5, color: textColor, font: tickFont, callback: tickText},
                    title: {display: true, text: p.yTitle, color: textColor, font: tickFont, padding: {top: 24, bottom: 0}}
                }
            }
        },
        plugins: [framePlugin]
    });
}

var topWash = "rgba(30,30,30,0.45)";
var lowWash = "rgba(30,30,30,0.55)";

makePanel("plotB", {left: 0, top: 0, width: 415, padRight: 43.7, padTop: 20, padBottom: 10.5, xAxisHeight: 19.2,
    xMin: 14, xMax: 21, xTicks: magTicks, yTicks: deltaTicks, xMinor: 0.2, yMinor: 0.1, zeroWidth: 0.8, cuts: [],
    xTitle: "B (LGGS)", yTitle: "B (Magnier) \u2212 B (LGGS)",
    stars: starsB, crowd: crowdB, core: coreB, wash: washB, washColor: topWash,
    notes: [["Median \u0394B = \u22120.120 mag", 15, 1.5]]});
makePanel("plotV", {left: 443, top: 0, width: 387, padRight: 16.3, padTop: 20, padBottom: 10.5, xAxisHeight: 19.2,
    xMin: 14, xMax: 21, xTicks: magTicks, yTicks: deltaTicks, xMinor: 0.2, yMinor: 0.1, zeroWidth: 0.8, cuts: [],
    xTitle: "V (LGGS)", yTitle: "V (Magnier) \u2212 V (LGGS)",
    stars: starsV, crowd: crowdV, core: coreV, wash: washV, washColor: topWash,
    notes: [["Median \u0394V= \u22120.025 mag", 15, 1.5]]});
makePanel("plotR", {left: 0, top: 260, width: 415, padRight: 43.7, padTop: 20.7, padBottom: 10, xAxisHeight: 18.7,
    xMin: 14, xMax: 21, xTicks: magTicks, yTicks: deltaTicks, xMinor: 0.2, yMinor: 0.1, zeroWidth: 1.5, cuts: [],
    xTitle: "R (LGGS)", yTitle: "R (Magnier) \u2212 R (LGGS)",
    stars: starsR, crowd: crowdR, core: coreR, wash: washR, washColor: topWash,
    notes: [["Median \u0394R = +0.019 mag", 15, 1.5]]});
makePanel("plotI", {left: 443, top: 260, width: 387, padRight: 16.3, padTop: 20.7, padBottom: 10, xAxisHeight: 18.7,
    xMin: 14, xMax: 21, xTicks: magTicks, yTicks: deltaTicks, xMinor: 0.2, yMinor: 0.1, zeroWidth: 1.5, cuts: [],
    xTitle: "I (LGGS)", yTitle: "I (Magnier) \u2212 I (LGGS)",
    stars: starsI, crowd: crowdI, core: coreI, wash: washI, washColor: topWash,
    notes: [["Median \u0394I = +0.077 mag", 15, 1.5]]});
makePanel("plotBV", {left: 0, top: 523, width: 415, padRight: 43.7, padTop: 19, padBottom: 11, xAxisHeight: 19.7,
    xMin: -0.4, xMax: 1.8, xTicks: bvTicks, yTicks: colorDeltaTicks, xMinor: 0.05, yMinor: 0.05, zeroWidth: 1.5, cuts: bvCuts,
    xTitle: "B\u2212V (LGGS)", yTitle: "B (Magnier) \u2212 B (LGGS)",
    stars: starsBV, crowd: crowdBV, core: coreBV, wash: washBV, washColor: lowWash,
    notes: [["\u0394B =", -0.35, 0.8], ["\u22120.025 mag", -0.35, 0.65], ["\u0394B =", 1.55, 0.8], ["\u22120.238", 1.55, 0.65], ["mag", 1.55, 0.5]]});
makePanel("plotRI", {left: 443, top: 523, width: 387, padRight: 16.3, padTop: 19, padBottom: 11, xAxisHeight: 19.7,
    xMin: -0.3, xMax: 1.8, xTicks: riTicks, yTicks: colorDeltaTicks, xMinor: 0.05, yMinor: 0.05, zeroWidth: 1.5, cuts: riCuts,
    xTitle: "R\u2212I (LGGS)", yTitle: "I (Magnier) \u2212 I (LGGS)",
    stars: starsRI, crowd: crowdRI, core: coreRI, wash: washRI, washColor: lowWash,
    notes: [["\u0394I=", -0.2, 0.8], ["\u22120.024 mag", -0.2, 0.65], ["\u0394I=", 1.25, 0.8], ["0.131 mag", 1.25, 0.65]]});
</script>
</body>
</html>
